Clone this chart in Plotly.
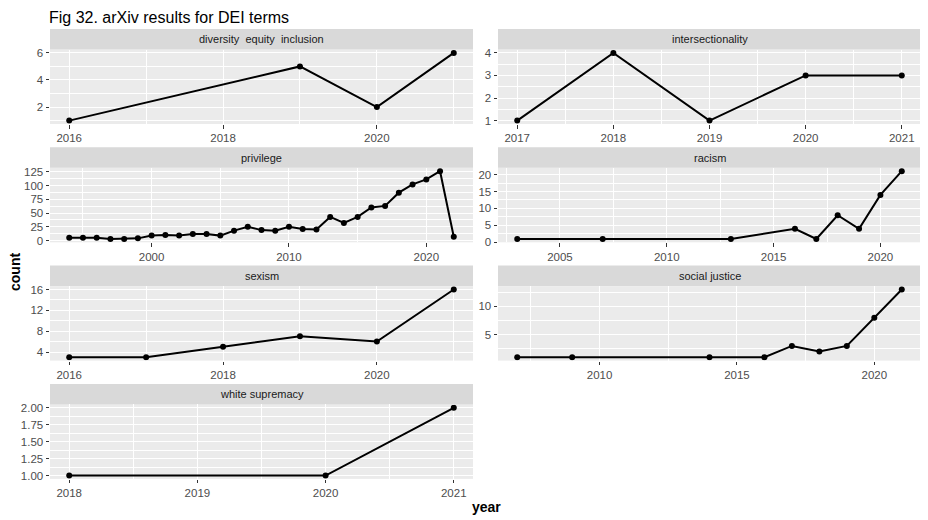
import plotly.graph_objects as go

# the page body has an 8px margin: the figure occupies 920x512 of the 928x520 window
W, H = 920, 512
OFF = 8

# ---------------- data ----------------
fig_title = "Fig 32. arXiv results for DEI terms"
x_title = "year"
y_title = "count"

terms = ["diversity\u00a0 equity\u00a0 inclusion", "intersectionality", "privilege",
         "racism", "sexism", "social justice", "white supremacy"]

dei_years = [2016, 2019, 2020, 2021]
dei_counts = [1, 5, 2, 6]

inter_years = [2017, 2018, 2019, 2020, 2021]
inter_counts = [1, 4, 1, 3, 3]

priv_years = [1994, 1995, 1996, 1997, 1998, 1999, 2000, 2001, 2002, 2003, 2004,
              2005, 2006, 2007, 2008, 2009, 2010, 2011, 2012, 2013, 2014, 2015,
              2016, 2017, 2018, 2019, 2020, 2021, 2022]
priv_counts = [5, 5, 5, 3, 3, 4, 9, 10, 9, 12, 12, 9, 18, 25, 19, 18, 25, 21, 20,
               43, 32, 43, 60, 63, 87, 102, 111, 126, 7]

racism_years = [2003, 2007, 2013, 2016, 2017, 2018, 2019, 2020, 2021]
racism_counts = [1, 1, 1, 4, 1, 8, 4, 14, 21]

sexism_years = [2016, 2017, 2018, 2019, 2020, 2021]
sexism_counts = [3, 3, 5, 7, 6, 16]

sj_years = [2007, 2009, 2014, 2016, 2017, 2018, 2019, 2020, 2021]
sj_counts = [1, 1, 1, 1, 3, 2, 3, 8, 13]

ws_years = [2018, 2020, 2021]
ws_counts = [1, 1, 2]

# tick breaks
dei_xticks = [2016, 2018, 2020]
dei_yticks = [2, 4, 6]
inter_xticks = [2017, 2018, 2019, 2020, 2021]
inter_yticks = [1, 2, 3, 4]
priv_xticks = [2000, 2010, 2020]
priv_yticks = [0, 25, 50, 75, 100, 125]
racism_xticks = [2005, 2010, 2015, 2020]
racism_yticks = [0, 5, 10, 15, 20]
sexism_xticks = [2016, 2018, 2020]
sexism_yticks = [4, 8, 12, 16]
sj_xticks = [2010, 2015, 2020]
sj_yticks = [5, 10]
ws_xticks = [2018, 2019, 2020, 2021]
ws_yticks = [1.00, 1.25, 1.50, 1.75, 2.00]

series = [
    (dei_years, dei_counts, dei_xticks, dei_yticks),
    (inter_years, inter_counts, inter_xticks, inter_yticks),
    (priv_years, priv_counts, priv_xticks, priv_yticks),
    (racism_years, racism_counts, racism_xticks, racism_yticks),
    (sexism_years, sexism_counts, sexism_xticks, sexism_yticks),
    (sj_years, sj_counts, sj_xticks, sj_yticks),
    (ws_years, ws_counts, ws_xticks, ws_yticks),
]

# ---------------- layout helpers ----------------
FONT = "Liberation Sans, Arial, sans-serif"
col_x = [(50, 473), (498, 921)]          # window pixels
strip_top0, row_step, strip_h, plot_h = 29, 118.3, 20.5, 74.5


def px_x(p):
    return (p - OFF) / W


def px_y(p):
    return 1 - (p - OFF) / H


def expand(vals, frac=0.05):
    lo, hi = min(vals), max(vals)
    d = (hi - lo) * frac if hi > lo else 0.5
    return [lo - d, hi + d]


def minors(ticks, rng):
    if len(ticks) < 2:
        return []
    step = ticks[1] - ticks[0]
    out = []
    v = ticks[0] - step / 2
    while v > rng[0]:
        v -= step
    while v < rng[1]:
        if v > rng[0]:
            out.append(v)
        v += step
    return out


fig = go.Figure()
shapes = []
annotations = []

for i, (xs, ys, xt, yt) in enumerate(series):
    row, col = divmod(i, 2)
    n = i + 1
    sfx = "" if n == 1 else str(n)
    x0p, x1p = col_x[col]
    s_top = strip_top0 + row * row_step
    p_top = s_top + strip_h
    p_bot = p_top + plot_h
    xd = [px_x(x0p), px_x(x1p)]
    yd = [px_y(p_bot), px_y(p_top)]

    fig.add_trace(go.Scatter(
        x=xs, y=ys, mode="lines+markers",
        line=dict(color="black", width=2),
        marker=dict(color="black", size=6),
        xaxis="x" + sfx, yaxis="y" + sfx, showlegend=False,
        hoverinfo="x+y",
    ))

    xr = expand(xs)
    yr = expand(ys)
    axis_common = dict(
        showline=False, zeroline=False, ticks="outside", ticklen=3.5,
        tickwidth=1, tickcolor="#333333", showgrid=True, gridcolor="white",
        gridwidth=1.1, tickfont=dict(family=FONT, size=11.5, color="#4D4D4D"),
        automargin=False, fixedrange=True,
    )
    fig.update_layout(**{
        "xaxis" + sfx: dict(
            axis_common, domain=xd, range=xr, anchor="y" + sfx,
            tickmode="array", tickvals=xt, ticktext=[str(v) for v in xt],
            minor=dict(tickmode="array", tickvals=minors(xt, xr), showgrid=True,
                       gridcolor="white", gridwidth=0.55, ticklen=0),
        ),
        "yaxis" + sfx: dict(
            axis_common, domain=yd, range=yr, anchor="x" + sfx,
            tickmode="array", tickvals=yt,
            ticktext=[("%.2f" % v) if i == 6 else str(v) for v in yt],
            minor=dict(tickmode="array", tickvals=minors(yt, yr), showgrid=True,
                       gridcolor="white", gridwidth=0.55, ticklen=0),
        ),
    })

    shapes.append(dict(type="rect", xref="paper", yref="paper",
                       x0=xd[0], x1=xd[1], y0=px_y(p_top), y1=px_y(s_top),
                       fillcolor="#D9D9D9", line=dict(width=0), layer="below"))
    annotations.append(dict(text=terms[i], xref="paper", yref="paper",
                            x=(xd[0] + xd[1]) / 2, y=px_y(s_top + strip_h / 2),
                            showarrow=False, xanchor="center", yanchor="middle",
                            font=dict(family=FONT, size=11, color="#1A1A1A")))

annotations.append(dict(text=fig_title, xref="paper", yref="paper",
                        x=px_x(48), y=1, xanchor="left", yanchor="top",
                        borderpad=0, showarrow=False,
                        font=dict(family=FONT, size=16, color="black")))
annotations.append(dict(text="<b>%s</b>" % x_title, xref="paper", yref="paper",
                        x=px_x(486), y=px_y(507), xanchor="center", yanchor="middle",
                        showarrow=False,
                        font=dict(family=FONT, size=14, color="black")))
annotations.append(dict(text="<b>%s</b>" % y_title, xref="paper", yref="paper",
                        x=px_x(15), y=px_y(272), xanchor="center", yanchor="middle",
                        textangle=-90, showarrow=False,
                        font=dict(family=FONT, size=14, color="black")))

fig.update_layout(
    width=W, height=H, margin=dict(l=0, r=0, t=0, b=0),
    paper_bgcolor="white", plot_bgcolor="#EBEBEB",
    shapes=shapes, annotations=annotations, showlegend=False,
)

fig.write_html("out.html", config={"displayModeBar": False})
